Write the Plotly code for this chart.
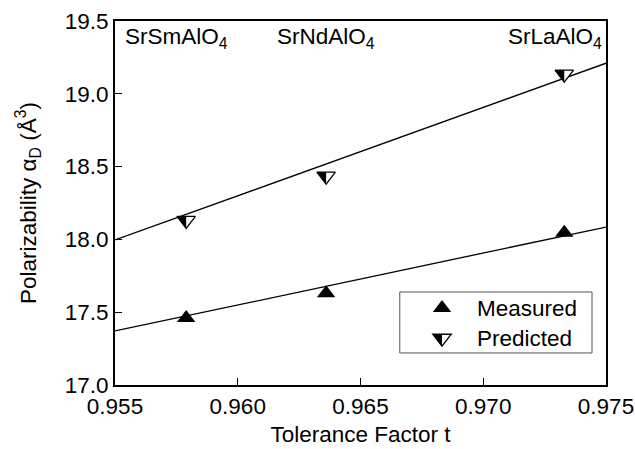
import plotly.graph_objects as go

# ---- data ----
compounds = ["SrSmAlO<sub>4</sub>", "SrNdAlO<sub>4</sub>", "SrLaAlO<sub>4</sub>"]
tolerance = [0.9579, 0.9636, 0.9733]
measured = [17.46, 17.63, 18.045]
predicted = [18.13, 18.435, 19.135]
fit_x = [0.955, 0.975]
fit_measured = [17.371, 18.085]
fit_predicted = [17.996, 19.21]
x_ticks = [0.955, 0.960, 0.965, 0.970, 0.975]
y_ticks = [17.0, 17.5, 18.0, 18.5, 19.0, 19.5]
label_shift = [-10, 0, -9]

FONT = "Liberation Sans, Arial, sans-serif"
FS = 22.5
MS = 16
r = MS / 2
rt = r * 2 / 3 ** 0.5

fig = go.Figure()
fig.add_trace(go.Scatter(x=fit_x, y=fit_measured, mode="lines",
                         line=dict(color="black", width=1.3), showlegend=False, hoverinfo="skip"))
fig.add_trace(go.Scatter(x=fit_x, y=fit_predicted, mode="lines",
                         line=dict(color="black", width=1.3), showlegend=False, hoverinfo="skip"))
fig.add_trace(go.Scatter(x=tolerance, y=measured, mode="markers", name="Measured",
                         marker=dict(symbol="triangle-up", size=MS, color="black",
                                     line=dict(width=0)), showlegend=False))
fig.add_trace(go.Scatter(x=tolerance, y=predicted, mode="markers", name="Predicted",
                         marker=dict(symbol="triangle-down", size=MS, color="white",
                                     line=dict(width=1.3, color="black")), showlegend=False))

half_path = f"M {-rt:.2f},{r/2:.2f} L 0,{r/2:.2f} L 0,{-r:.2f} Z"
down_path = f"M {-rt:.2f},{r/2:.2f} L {rt:.2f},{r/2:.2f} L 0,{-r:.2f} Z"
up_path = f"M {-rt:.2f},{-r/2:.2f} L {rt:.2f},{-r/2:.2f} L 0,{r:.2f} Z"

shapes = []
for xv, yv in zip(tolerance, predicted):
    shapes.append(dict(type="path", xref="x", yref="y", xsizemode="pixel", ysizemode="pixel",
                       xanchor=xv, yanchor=yv, path=half_path,
                       fillcolor="black", line=dict(width=0)))

# legend (manual)
shapes.append(dict(type="rect", xref="paper", yref="paper", x0=0.580, x1=0.9715, y0=0.088, y1=0.2555,
                   line=dict(color="#555555", width=1), fillcolor="white", layer="above"))
leg_x = 0.666
leg_y = [0.2115, 0.1285]
shapes.append(dict(type="path", xref="paper", yref="paper", xsizemode="pixel", ysizemode="pixel",
                   xanchor=leg_x, yanchor=leg_y[0], path=up_path, fillcolor="black", line=dict(width=0)))
shapes.append(dict(type="path", xref="paper", yref="paper", xsizemode="pixel", ysizemode="pixel",
                   xanchor=leg_x, yanchor=leg_y[1], path=down_path, fillcolor="white",
                   line=dict(width=1.3, color="black")))
shapes.append(dict(type="path", xref="paper", yref="paper", xsizemode="pixel", ysizemode="pixel",
                   xanchor=leg_x, yanchor=leg_y[1], path=half_path, fillcolor="black", line=dict(width=0)))

annotations = []
for name, ly in zip(["Measured", "Predicted"], leg_y):
    annotations.append(dict(text=name, xref="paper", yref="paper", x=0.733, y=ly,
                            xanchor="left", yanchor="middle", showarrow=False,
                            font=dict(size=FS, color="black", family=FONT)))
for name, xv, sh in zip(compounds, tolerance, label_shift):
    annotations.append(dict(text=name, xref="x", yref="y", x=xv, y=19.38, xshift=sh,
                            xanchor="center", yanchor="middle", showarrow=False,
                            font=dict(size=FS, color="black", family=FONT)))

fig.update_layout(
    width=635, height=449,
    margin=dict(l=115, r=29, t=21, b=64),
    paper_bgcolor="white", plot_bgcolor="white",
    font=dict(family=FONT, size=FS, color="black"),
    shapes=shapes, annotations=annotations,
    showlegend=False,
)
fig.update_xaxes(range=[0.955, 0.975], tickvals=x_ticks, ticktext=[f"{v:.3f}" for v in x_ticks],
                 ticks="inside", ticklen=7, tickwidth=1.3, tickcolor="black",
                 showline=True, linecolor="black", linewidth=1.8, mirror=True,
                 showgrid=False, zeroline=False, automargin=False,
                 title=dict(text="Tolerance Factor t", standoff=8, font=dict(size=FS)))
fig.update_yaxes(range=[17.0, 19.5], tickvals=y_ticks, ticktext=[f"{v:.1f}" for v in y_ticks],
                 ticks="inside", ticklen=7, tickwidth=1.3, tickcolor="black",
                 showline=True, linecolor="black", linewidth=1.8, mirror=True,
                 showgrid=False, zeroline=False, automargin=False,
                 title=dict(text="Polarizability α<sub>D</sub> (Å<sup>3</sup>)", standoff=22,
                            font=dict(size=FS)))

fig.write_html("out.html")
